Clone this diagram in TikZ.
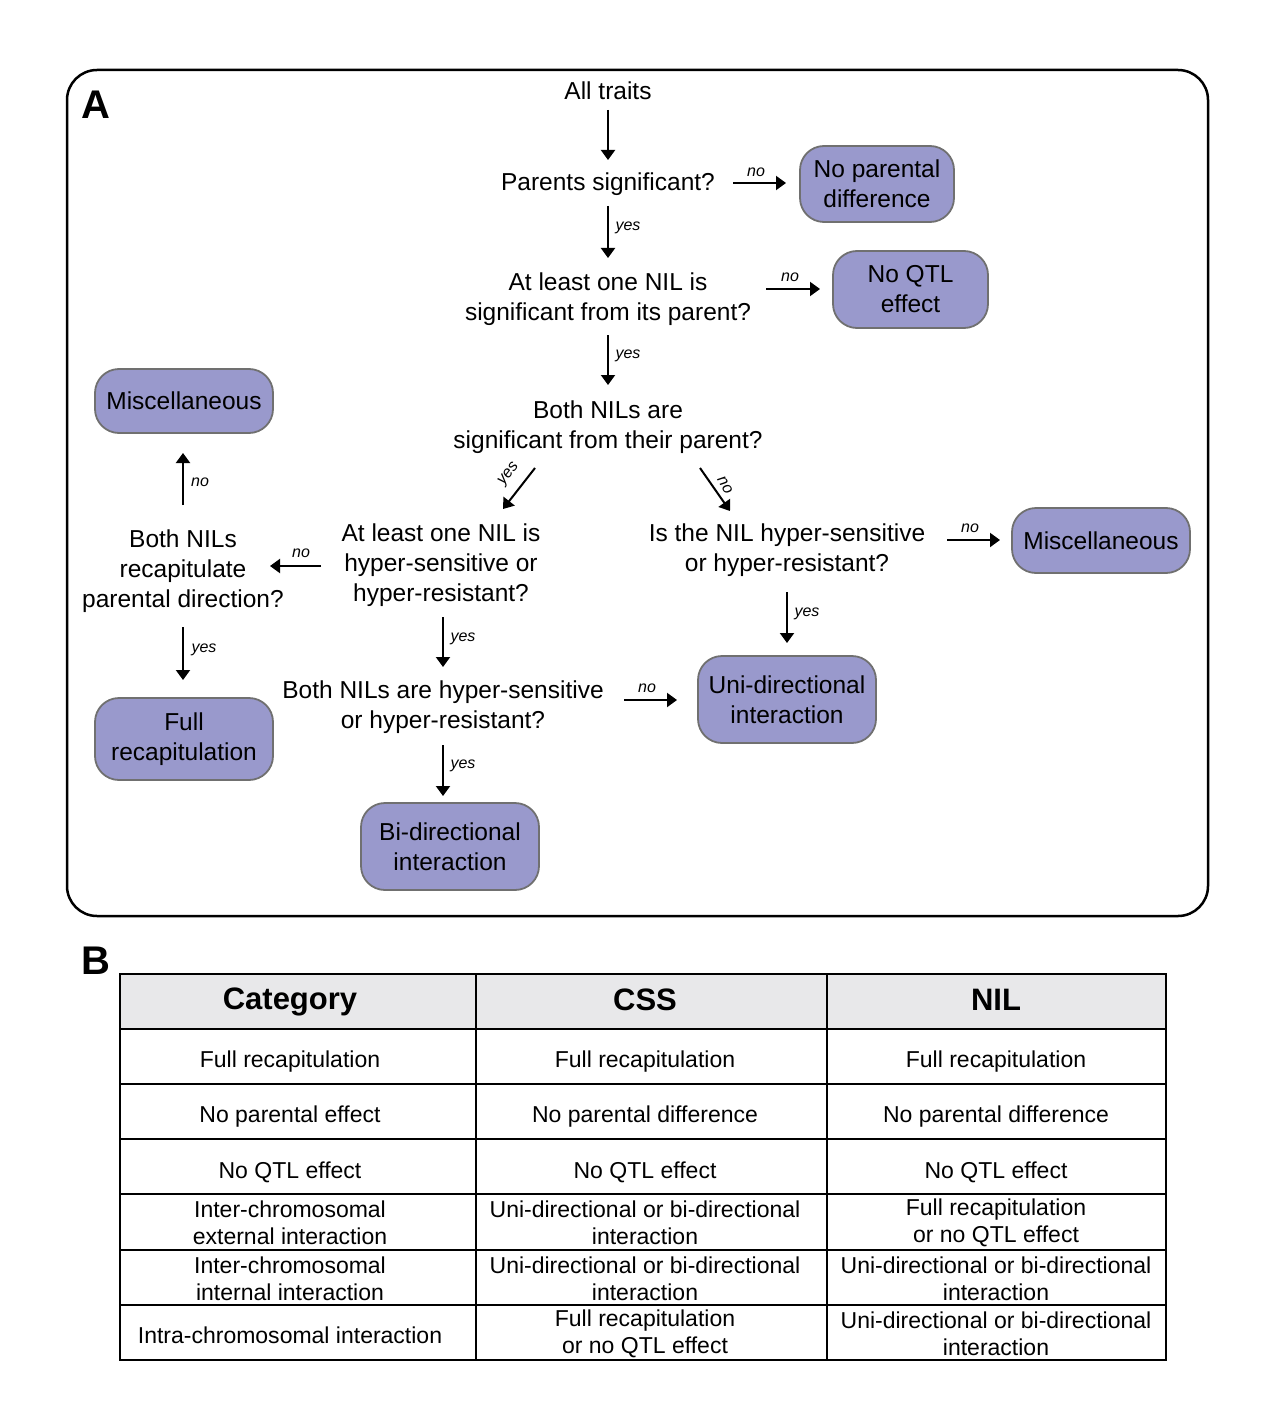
\documentclass[tikz,border=0pt]{standalone}
\usepackage{fontspec}
\setmainfont{Liberation Sans}
\usetikzlibrary{arrows.meta,calc}
\definecolor{boxfill}{HTML}{9999CC}
\definecolor{boxline}{HTML}{707070}
\definecolor{headfill}{HTML}{E8E8EA}
\begin{document}
\begin{tikzpicture}[x=1pt,y=-1pt,
  q/.style={align=center, font=\fontsize{24.5}{30}\selectfont, inner sep=0pt},
  res/.style={draw=boxline, line width=1.8pt, fill=boxfill, rounded corners=24pt,
    align=center, font=\fontsize{24.5}{30}\selectfont, inner sep=0pt},
  arr/.style={line width=2pt, -{Triangle[width=14pt,length=10pt]}},
  lab/.style={font=\fontsize{16}{18}\selectfont\itshape, inner sep=0pt},
  cell/.style={align=center, font=\fontsize{23}{27}\selectfont, inner sep=0pt},
  head/.style={font=\fontsize{31}{31}\selectfont\bfseries, inner sep=0pt},
  panel/.style={font=\fontsize{40}{40}\selectfont\bfseries, inner sep=0pt},
  tline/.style={line width=2.5pt}
]
\useasboundingbox (0,0) rectangle (1275,1423);

% Panel A frame
\draw[line width=2.5pt, rounded corners=30pt] (67,70) rectangle (1208,916);
\node[panel] (pA) at (96,105) {A};

% Question nodes
\node[q] (all)   at (608,91)  {All traits};
\node[q] (par)   at (608,184) {Parents significant?};
\node[q] (alo1)  at (608,299) {At least one NIL is\\significant from its parent?};
\node[q] (both)  at (608,427) {Both NILs are\\significant from their parent?};
\node[q] (alo2)  at (441,565) {At least one NIL is\\hyper-sensitive or\\hyper-resistant?};
\node[q] (bnr)   at (183,571) {Both NILs\\recapitulate\\parental direction?};
\node[q] (bnh)   at (443,707) {Both NILs are hyper-sensitive\\or hyper-resistant?};
\node[q] (isnil) at (787,550) {Is the NIL hyper-sensitive\\or hyper-resistant?};

% Result boxes
\node[res, minimum width=154pt, minimum height=76pt] (npd)   at (877,184)   {No parental\\difference};
\node[res, minimum width=155pt, minimum height=77pt] (nqtl)  at (910.5,289.5) {No QTL\\effect};
\node[res, minimum width=178pt, minimum height=64pt] (misc1) at (184,401)   {Miscellaneous};
\node[res, minimum width=178pt, minimum height=82pt] (full)  at (184,739)   {Full\\recapitulation};
\node[res, minimum width=178pt, minimum height=87pt] (uni)   at (787,699.5) {Uni-directional\\interaction};
\node[res, minimum width=178pt, minimum height=65pt] (misc2) at (1101,540.5) {Miscellaneous};
\node[res, minimum width=178pt, minimum height=87pt] (bi)    at (450,846.5) {Bi-directional\\interaction};

% Connectors
\draw[arr] ($(all)+(0,19)$) -- ($(par)+(0,-24)$);
\draw[arr] ($(par)+(125,-1)$) -- ($(npd)+(-91,-1)$);
\draw[arr] ($(par)+(0,22)$) -- ($(alo1)+(0,-41)$);
\draw[arr] ($(alo1)+(158,-10)$) -- ($(nqtl)+(-90.5,-0.5)$);
\draw[arr] ($(alo1)+(0,36)$) -- ($(both)+(0,-42)$);
\draw[arr] ($(both)+(-73,41)$) -- ($(alo2)+(62,-56)$);
\draw[arr] ($(both)+(92,41)$) -- ($(isnil)+(-57,-39)$);
\draw[arr] ($(alo2)+(-120,1)$) -- ($(bnr)+(87,-5)$);
\draw[arr] ($(bnr)+(0,-66)$) -- ($(misc1)+(-1,52)$);
\draw[arr] ($(bnr)+(0,56)$) -- ($(full)+(-1,-59)$);
\draw[arr] ($(alo2)+(2,52)$) -- ($(bnh)+(0,-40)$);
\draw[arr] ($(bnh)+(181,-7)$) -- ($(uni)+(-110,0.5)$);
\draw[arr] ($(bnh)+(0,38)$) -- ($(bi)+(-7,-50.5)$);
\draw[arr] ($(isnil)+(160,-10)$) -- ($(misc2)+(-101,-0.5)$);
\draw[arr] ($(isnil)+(0,42)$) -- ($(uni)+(0,-56.5)$);

% Connector labels
\node[lab] (l1)  at (756,172) {no};
\node[lab] (l2)  at (628,228) {yes};
\node[lab] (l3)  at (790,277) {no};
\node[lab] (l4)  at (628,356) {yes};
\node[lab, rotate=52]  (l5) at (509,474) {yes};
\node[lab, rotate=-60] (l6) at (725,485) {no};
\node[lab] (l7)  at (301,553) {no};
\node[lab] (l8)  at (200,482) {no};
\node[lab] (l9)  at (204,650) {yes};
\node[lab] (l10) at (463,639) {yes};
\node[lab] (l11) at (647,688) {no};
\node[lab] (l12) at (463,766) {yes};
\node[lab] (l13) at (970,528) {no};
\node[lab] (l14) at (807,614) {yes};

% Panel B
\node[panel] (pB) at (96,961) {B};
\fill[headfill] (120,974) rectangle (1166,1029);
\foreach \yy in {1029,1084,1139,1194,1250,1305} \draw[tline] (120,\yy) -- (1166,\yy);
\foreach \xx in {476,827} \draw[tline] (\xx,974) -- (\xx,1360);
\draw[tline] (120,974) rectangle (1166,1360);

\node[head] (h1) at (290,1002) {Category};
\node[head] (h2) at (645,1000) {CSS};
\node[head] (h3) at (996,1000) {NIL};

\node[cell] at (290,1062) {Full recapitulation};
\node[cell] at (645,1062) {Full recapitulation};
\node[cell] at (996,1062) {Full recapitulation};

\node[cell] at (290,1117) {No parental effect};
\node[cell] at (645,1117) {No parental difference};
\node[cell] at (996,1117) {No parental difference};

\node[cell] at (290,1172) {No QTL effect};
\node[cell] at (645,1172) {No QTL effect};
\node[cell] at (996,1172) {No QTL effect};

\node[cell] at (290,1223) {Inter-chromosomal\\external interaction};
\node[cell] at (645,1223) {Uni-directional or bi-directional\\interaction};
\node[cell] at (996,1223) {Full recapitulation\\or no QTL effect};

\node[cell] at (290,1279) {Inter-chromosomal\\internal interaction};
\node[cell] at (645,1279) {Uni-directional or bi-directional\\interaction};
\node[cell] at (996,1279) {Uni-directional or bi-directional\\interaction};

\node[cell] at (290,1335) {Intra-chromosomal interaction};
\node[cell] at (645,1334) {Full recapitulation\\or no QTL effect};
\node[cell] at (996,1334) {Uni-directional or bi-directional\\interaction};
\end{tikzpicture}
\end{document}
